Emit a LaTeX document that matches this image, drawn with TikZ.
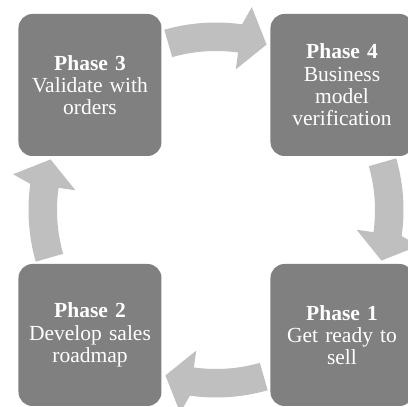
\documentclass[tikz,border=0pt]{standalone}
\usepackage{fontspec}
\setmainfont{Liberation Serif}

\begin{document}
\begin{tikzpicture}[
        x = 1pt, y = 1pt,
        phase/.style = {
            fill = black!50,
            rounded corners = 14pt,
            text = white,
            font = \fontsize{21.5}{22.3}\selectfont,
            minimum width = 143pt,
            minimum height = 142pt,
            text width = 135pt,
            align = center,
            inner sep = 0pt,
        },
        cyc/.style = {
            fill = black!25,
        }
    ]
    \useasboundingbox (-216,-197) rectangle (192,210);
    \clip (-216,-197) rectangle (192,210);

    \coordinate (c) at (0,0);

    % circular arrows, drawn below the boxes
    \foreach \a in {106,16,-74,196} {
        \fill[cyc] ([shift={(\a:187.5)}]c)
            arc[start angle=\a, end angle=\a-24, radius=187.5]
            -- ([shift={(\a-26:206)}]c)
            -- ([shift={(\a-33:173)}]c)
            -- ([shift={(\a-24:142)}]c)
            -- ([shift={(\a-24:159)}]c)
            arc[start angle=\a-24, end angle=\a, radius=159]
            -- cycle;
    }

    \node[phase] (p3) at (-126, 125) {\textbf{Phase 3}\\Validate with\\orders};
    \node[phase] (p4) at ( 126, 125) {\textbf{Phase 4}\\Business\\model\\verification};
    \node[phase] (p2) at (-126,-125) {\textbf{Phase 2}\\Develop sales\\roadmap};
    \node[phase] (p1) at ( 126,-125) {\textbf{Phase 1}\\Get ready to\\sell};
\end{tikzpicture}
\end{document}
